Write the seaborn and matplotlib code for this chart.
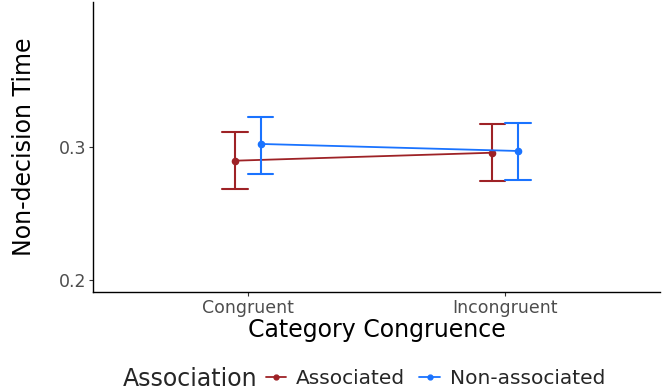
import numpy as np
import pandas as pd
import matplotlib
matplotlib.use("Agg")
import matplotlib.pyplot as plt
import seaborn as sns
from matplotlib.lines import Line2D

conditions = ["Congruent", "Incongruent"]
groups = ["Associated", "Non-associated"]
# mean and interval per group, one value per condition
means = {"Associated": [0.2897, 0.2957], "Non-associated": [0.3023, 0.2970]}
lowers = {"Associated": [0.2684, 0.2744], "Non-associated": [0.2797, 0.2752]}
uppers = {"Associated": [0.3111, 0.3173], "Non-associated": [0.3228, 0.3183]}
colors = {"Associated": "#9E2226", "Non-associated": "#1A73FF"}

rows = []
for g in groups:
    for i, c in enumerate(conditions):
        for v in (lowers[g][i], means[g][i], uppers[g][i]):
            rows.append({"cond": c, "group": g, "value": v})
df = pd.DataFrame(rows)

sns.set_style("white")
plt.rcParams['font.family'] = ['DejaVu Sans']

fig = plt.figure(figsize=(6.62, 3.9), dpi=100)
ax = fig.add_axes([93 / 662, 1 - 292 / 390, (660 - 93) / 662, (292 - 2) / 390])

sns.pointplot(data=df, x="cond", y="value", hue="group", order=conditions,
              hue_order=groups, palette=colors, estimator="median",
              errorbar=("pi", 100), dodge=0.1, capsize=0.1, markers="o",
              markersize=4.5, linewidth=1.3, err_kws={"linewidth": 1.5},
              legend=False, ax=ax)

ax.set_xlim(-0.6, 1.6)
ax.set_ylim(0.191, 0.409)
ax.set_yticks([0.2, 0.3])
ax.set_yticklabels(["0.2", "0.3"])
for s in ["top", "right"]:
    ax.spines[s].set_visible(False)
for s in ["left", "bottom"]:
    ax.spines[s].set_color("black")
    ax.spines[s].set_linewidth(1.0)
ax.tick_params(axis="both", which="both", length=3, width=0.8, color="#333333",
               labelsize=12.5, labelcolor="#4D4D4D", direction="out",
               left=True, bottom=True, pad=2)
ax.set_xlabel("Category Congruence", fontsize=17, color="black", labelpad=1)
ax.set_ylabel("Non-decision Time", fontsize=17, color="black", labelpad=16)

fig.text(123 / 662, 1 - 379 / 390, "Association", fontsize=17,
         ha="left", va="center")
handles = [Line2D([0], [0], color=colors[g], marker="o", markersize=3.5,
                  linewidth=1.3) for g in groups]
fig.legend(handles, groups, loc="center left", ncol=2, frameon=False,
           bbox_to_anchor=(266 / 662, 1 - 379 / 390), fontsize=14.5,
           handlelength=1.0, handletextpad=0.5, columnspacing=0.7,
           borderaxespad=0, borderpad=0)

fig.savefig("out.png", dpi=100)
